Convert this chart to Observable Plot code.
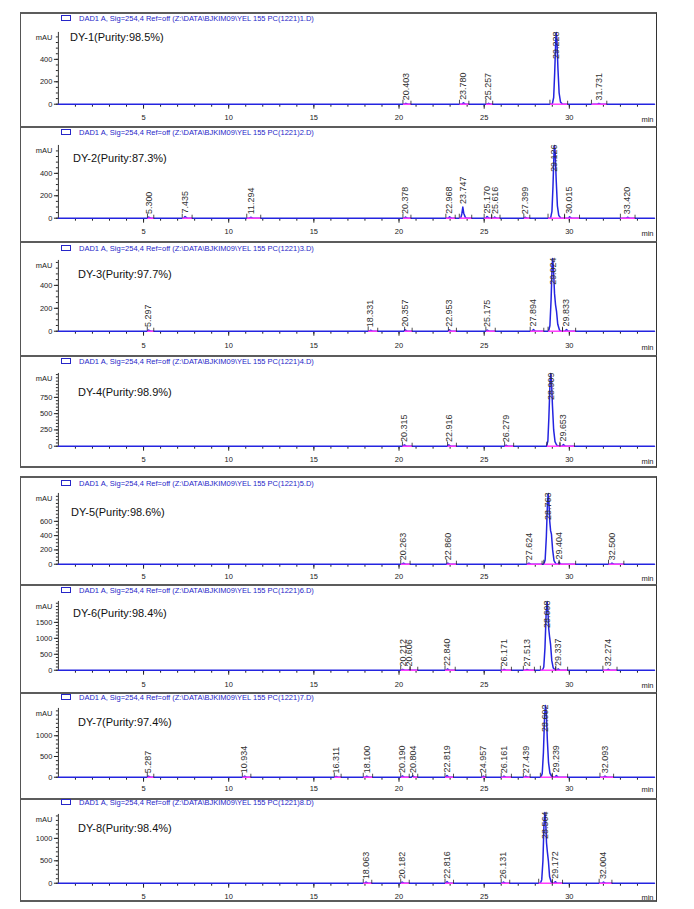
<!DOCTYPE html>
<html><head><meta charset="utf-8">
<script src="https://cdn.jsdelivr.net/npm/d3@7"></script>
<script src="https://cdn.jsdelivr.net/npm/@observablehq/plot@0.6"></script>
<style>
body{margin:0;background:#fff;font-family:"Liberation Sans",Arial,sans-serif;}
#root{position:relative;width:694px;height:909px;overflow:hidden;}
.panel{position:absolute;left:20px;width:637px;box-sizing:border-box;border-top:2px solid #5c5c5c;border-left:1px solid #555;border-right:1px solid #333;}
.panel svg{position:absolute;left:-1px;top:-2px;}
.hdr{position:absolute;left:58px;font-size:7.5px;line-height:9px;color:#2626c8;white-space:nowrap;}
.icon{position:absolute;left:40px;width:8px;height:4px;border:1px solid #2626c8;}
.ttl{position:absolute;font-size:11px;line-height:13px;color:#111;white-space:nowrap;}
</style></head><body><div id="root"></div><script>
// ---------- data ----------
const titles = ["DY-1(Purity:98.5%)","DY-2(Purity:87.3%)","DY-3(Purity:97.7%)","DY-4(Purity:98.9%)",
                "DY-5(Purity:98.6%)","DY-6(Purity:98.4%)","DY-7(Purity:97.4%)","DY-8(Purity:98.4%)"];
const headers = [1,2,3,4,5,6,7,8].map(n => `DAD1 A, Sig=254,4 Ref=off (Z:\\DATA\\BJKIM09\\YEL 155 PC(1221)${n}.D)`);
const xTicks = [5,10,15,20,25,30];
const yTicks1 = [0,200,400], yTicks2 = [0,200,400], yTicks3 = [0,200,400], yTicks4 = [0,250,500,750];
const yTicks5 = [0,200,400,600], yTicks6 = [0,500,1000,1500], yTicks7 = [0,500,1000], yTicks8 = [0,500,1000];

// retention-time labels and apex heights (mAU)
const labels1 = ["20.403","23.780","25.257","29.228","31.731"];
const heights1 = [8,12,8,640,6];
const labels2 = ["5.300","7.435","11.294","20.378","22.968","23.747","25.170","25.616","27.399","29.126","30.015","33.420"];
const heights2 = [10,15,8,10,12,100,15,10,8,649,12,8];
const labels3 = ["5.297","18.331","20.357","22.953","25.175","27.894","29.024","29.833"];
const heights3 = [10,8,12,12,10,15,635,15];
const labels4 = ["20.315","22.916","26.279","28.909","29.653"];
const heights4 = [20,20,15,1118,25];
const labels5 = ["20.263","22.860","27.624","28.763","29.404","32.500"];
const heights5 = [15,15,15,990,25,15];
const labels6 = ["20.212","20.606","22.840","26.171","27.513","28.698","29.337","32.274"];
const heights6 = [25,20,40,25,25,2156,40,30];
const labels7 = ["5.287","10.934","16.311","18.100","20.190","20.804","22.819","24.957","26.161","27.439","28.602","29.239","32.093"];
const heights7 = [25,25,20,25,30,30,40,25,25,25,1730,40,25];
const labels8 = ["18.063","20.182","22.816","26.131","28.564","29.172","32.004"];
const heights8 = [25,25,35,25,1578,35,25];

// signal traces [time (min), mAU]
const trace1 = [[0,0],[20.32,0],[20.403,8],[20.52,0],[23.7,0],[23.78,12],[23.9,0],[25.18,0],[25.257,8],[25.37,0],
 [29.0,0],[29.08,60],[29.14,280],[29.2,560],[29.228,640],[29.27,580],[29.33,320],[29.4,100],[29.48,20],[29.6,0],
 [31.65,0],[31.731,6],[31.85,0],[35,0]];
const trace2 = [[0,0],[5.22,0],[5.3,10],[5.42,0],[7.35,0],[7.435,15],[7.56,0],[11.21,0],[11.294,8],[11.41,0],
 [20.3,0],[20.378,10],[20.5,0],[22.89,0],[22.968,12],[23.08,0],[23.62,0],[23.69,40],[23.747,100],[23.8,45],[23.9,5],[24.0,0],
 [25.09,0],[25.17,15],[25.29,0],[25.54,0],[25.616,10],[25.73,0],[27.32,0],[27.399,8],[27.52,0],
 [28.9,0],[28.98,60],[29.04,280],[29.1,580],[29.126,649],[29.17,590],[29.23,340],[29.3,110],[29.38,25],[29.5,0],
 [29.94,0],[30.015,12],[30.13,0],[33.34,0],[33.42,8],[33.54,0],[35,0]];
const trace3 = [[0,0],[5.22,0],[5.297,10],[5.42,0],[18.25,0],[18.331,8],[18.45,0],[20.28,0],[20.357,12],[20.48,0],
 [22.87,0],[22.953,12],[23.07,0],[25.1,0],[25.175,10],[25.3,0],[27.81,0],[27.894,15],[28.01,0],
 [28.78,0],[28.86,50],[28.93,280],[28.99,580],[29.024,635],[29.07,540],[29.13,330],[29.19,230],[29.25,170],[29.32,60],[29.42,10],[29.5,0],
 [29.75,0],[29.833,15],[29.95,0],[35,0]];
const trace4 = [[0,0],[20.23,0],[20.315,20],[20.43,0],[22.83,0],[22.916,20],[23.03,0],[26.2,0],[26.279,15],[26.4,0],
 [28.66,0],[28.74,80],[28.8,450],[28.87,1000],[28.909,1118],[28.95,1020],[29.01,620],[29.08,250],[29.16,70],[29.26,15],[29.4,0],
 [29.57,0],[29.653,25],[29.77,0],[35,0]];
const trace5 = [[0,0],[20.18,0],[20.263,15],[20.38,0],[22.78,0],[22.86,15],[22.98,0],[27.54,0],[27.624,15],[27.74,0],
 [28.5,0],[28.58,60],[28.65,380],[28.72,880],[28.763,990],[28.8,880],[28.85,600],[28.9,470],[28.95,420],[29.02,200],[29.1,50],[29.22,0],
 [29.32,0],[29.404,25],[29.52,0],[32.42,0],[32.5,15],[32.62,0],[35,0]];
const trace6 = [[0,0],[20.13,0],[20.212,25],[20.33,0],[20.52,0],[20.606,20],[20.72,0],[22.76,0],[22.84,40],[22.96,0],
 [26.09,0],[26.171,25],[26.29,0],[27.43,0],[27.513,25],[27.63,0],
 [28.42,0],[28.5,100],[28.57,700],[28.64,1800],[28.698,2156],[28.74,1900],[28.79,1300],[28.84,1050],[28.9,800],[28.97,300],[29.05,80],[29.18,0],
 [29.26,0],[29.337,40],[29.45,0],[32.19,0],[32.274,30],[32.39,0],[35,0]];
const trace7 = [[0,0],[5.21,0],[5.287,25],[5.4,0],[10.85,0],[10.934,25],[11.05,0],[16.23,0],[16.311,20],[16.43,0],
 [18.02,0],[18.1,25],[18.22,0],[20.11,0],[20.19,30],[20.31,0],[20.72,0],[20.804,30],[20.92,0],[22.74,0],[22.819,40],[22.94,0],
 [24.88,0],[24.957,25],[25.07,0],[26.08,0],[26.161,25],[26.28,0],[27.36,0],[27.439,25],[27.56,0],
 [28.33,0],[28.41,90],[28.48,600],[28.55,1500],[28.602,1730],[28.65,1550],[28.71,900],[28.78,350],[28.86,100],[28.96,20],[29.1,0],
 [29.16,0],[29.239,40],[29.36,0],[32.01,0],[32.093,25],[32.21,0],[35,0]];
const trace8 = [[0,0],[17.98,0],[18.063,25],[18.18,0],[20.1,0],[20.182,25],[20.3,0],[22.74,0],[22.816,35],[22.93,0],
 [26.05,0],[26.131,25],[26.25,0],
 [28.3,0],[28.38,80],[28.45,500],[28.51,1300],[28.564,1578],[28.61,1400],[28.66,900],[28.71,700],[28.77,500],[28.84,150],[28.93,30],[29.05,0],
 [29.09,0],[29.172,35],[29.29,0],[31.92,0],[32.004,25],[32.12,0],[35,0]];

// integration windows [start, end] (min)
const integ1 = [[20.23,20.7],[23.55,24.1],[25.1,25.5],[28.86,29.9],[31.3,32.2]];
const integ2 = [[5.23,5.6],[7.27,7.85],[11.06,11.88],[20.23,20.7],[22.75,23.3],[23.54,24.27],[25.0,25.44],[25.44,25.93],[27.33,27.68],[28.75,29.72],[29.72,30.6],[33.0,33.86]];
const integ3 = [[5.22,5.6],[18.19,18.75],[20.33,20.77],[22.9,23.37],[25.1,25.65],[27.7,28.5],[28.75,29.6],[29.6,30.37]];
const integ4 = [[20.2,20.77],[22.85,23.37],[26.2,26.73],[28.68,29.45],[29.45,30.3]];
const integ5 = [[20.1,20.65],[22.8,23.37],[27.5,28.4],[28.5,29.4],[29.4,30.37],[32.3,33.2]];
const integ6 = [[20.1,20.65],[20.65,21.1],[22.7,23.3],[26.0,26.6],[27.3,27.95],[28.3,29.2],[29.2,29.9],[31.97,32.8]];
const integ7 = [[5.22,5.6],[10.8,11.3],[16.2,16.6],[17.9,18.45],[20.1,20.6],[20.8,21.1],[22.7,23.2],[24.85,25.1],[26.0,26.6],[27.3,27.7],[28.3,29.0],[29.0,29.9],[31.8,32.6]];
const integ8 = [[17.9,18.4],[20.1,20.6],[22.7,23.2],[26.0,26.5],[28.2,29.0],[29.0,29.6],[31.75,32.5]];

// ---------- layout (px) ----------
const layout = [
 {top:12,  h:114, zero:92, mt:20, k:0.1125, lab:107, hdr:6, ty:25, tx:70, minor:50, bb:false},
 {top:126, h:115, zero:92, mt:19, k:0.1125, lab:107, hdr:6, ty:32, tx:73, minor:50, bb:false},
 {top:241, h:114, zero:90, mt:19, k:0.115,  lab:106, hdr:7, ty:33, tx:78, minor:50, bb:false},
 {top:355, h:113, zero:91, mt:18, k:0.0653, lab:106, hdr:6, ty:37, tx:78, minor:50, bb:true},
 {top:476, h:108, zero:88, mt:17, k:0.0717, lab:102, hdr:7, ty:36, tx:71, minor:50, bb:false},
 {top:584, h:108, zero:86, mt:17, k:0.032,  lab:101, hdr:6, ty:29, tx:73, minor:100, bb:false},
 {top:692, h:106, zero:85, mt:16, k:0.0416, lab:97,  hdr:5, ty:30, tx:78, minor:100, bb:false},
 {top:798, h:104, zero:85, mt:16, k:0.045,  lab:99,  hdr:4, ty:30, tx:78, minor:100, bb:true}
];
const BLUE = "#2424e0", PINK = "#ff3cff";

const sets = [
 [trace1, labels1, heights1, integ1, yTicks1],
 [trace2, labels2, heights2, integ2, yTicks2],
 [trace3, labels3, heights3, integ3, yTicks3],
 [trace4, labels4, heights4, integ4, yTicks4],
 [trace5, labels5, heights5, integ5, yTicks5],
 [trace6, labels6, heights6, integ6, yTicks6],
 [trace7, labels7, heights7, integ7, yTicks7],
 [trace8, labels8, heights8, integ8, yTicks8]
];

const root = document.getElementById("root");
sets.forEach(([trace, labels, heights, integ, yticks], i) => {
  const c = layout[i];
  const k = c.k;
  const fb = c.zero + 1;
  const ymin = -1 / k, ymax = (c.zero - c.mt) / k;
  const gap = c.lab - fb;
  const pts = trace.map(([t, v]) => ({t, v}));
  const peaks = labels.map((s, j) => ({rt: +s, s, h: heights[j]}));
  const imax = d3.maxIndex(heights);
  const mainP = [peaks[imax]];
  const minorP = peaks.filter((d, j) => j !== imax);
  const seg = integ.map(([a, b]) => ({a, b}));

  const div = document.createElement("div");
  div.className = "panel";
  div.style.top = c.top + "px";
  div.style.height = c.h + "px";
  if (c.bb) div.style.borderBottom = "2px solid #5c5c5c";
  root.appendChild(div);

  const svg = Plot.plot({
    width: 637, height: c.h,
    marginLeft: 38, marginRight: 1, marginTop: c.mt, marginBottom: c.h - fb,
    x: {domain: [0, 35]},
    y: {domain: [ymin, ymax]},
    style: {fontFamily: "'Liberation Sans', Arial, sans-serif", fontSize: "7.5px", color: "#222", background: "transparent", overflow: "visible"},
    marks: [
      Plot.axisY({ticks: d3.range(0, ymax, c.minor), tickSize: 2, tickFormat: () => "", label: null}),
      Plot.axisY({ticks: yticks, tickSize: 4, tickPadding: 2, tickFormat: d => String(d), label: null}),
      Plot.axisX({ticks: d3.range(1, 35), tickSize: 2, tickFormat: () => "", label: null}),
      Plot.axisX({ticks: xTicks, tickSize: 4, tickPadding: Math.max(1, gap - 8), tickFormat: d => String(d), label: null}),
      Plot.ruleX([0], {stroke: "#333"}),
      Plot.line(pts, {x: "t", y: "v", stroke: BLUE, strokeWidth: 1.5}),
      Plot.link(seg, {x1: "a", x2: "b", y1: 0, y2: 0, stroke: PINK, strokeWidth: 1.5}),
      Plot.ruleX(seg, {x: "a", y1: 0, y2: 4 / k, stroke: "#222", strokeWidth: 0.8}),
      Plot.ruleX(seg, {x: "b", y1: -1 / k, y2: 3 / k, stroke: "#222", strokeWidth: 0.8}),
      Plot.text(minorP, {x: "rt", y: "h", text: "s", rotate: -90, textAnchor: "start", lineAnchor: "middle", dy: -3, fontSize: 9, fill: "#333"}),
      Plot.text(mainP, {x: "rt", y: "h", text: "s", rotate: -90, textAnchor: "end", lineAnchor: "middle", dy: -1, fontSize: 9, fill: "#333"}),
      Plot.text(["mAU"], {text: d => d, frameAnchor: "top-left", dx: -6, dy: 5, textAnchor: "end", lineAnchor: "middle"}),
      Plot.text(["min"], {text: d => d, frameAnchor: "bottom-right", dx: -1, dy: gap, textAnchor: "end", lineAnchor: "middle"})
    ]
  });
  div.appendChild(svg);

  const icon = document.createElement("div");
  icon.className = "icon";
  icon.style.top = (c.hdr - 3 - 2) + "px";
  div.appendChild(icon);

  const hdr = document.createElement("div");
  hdr.className = "hdr";
  hdr.style.top = (c.hdr - 4.5 - 2) + "px";
  hdr.textContent = headers[i];
  div.appendChild(hdr);

  const ttl = document.createElement("div");
  ttl.className = "ttl";
  ttl.style.top = (c.ty - 6.5 - 2) + "px";
  ttl.style.left = (c.tx - 21) + "px";
  ttl.textContent = titles[i];
  div.appendChild(ttl);
});
</script></body></html>
